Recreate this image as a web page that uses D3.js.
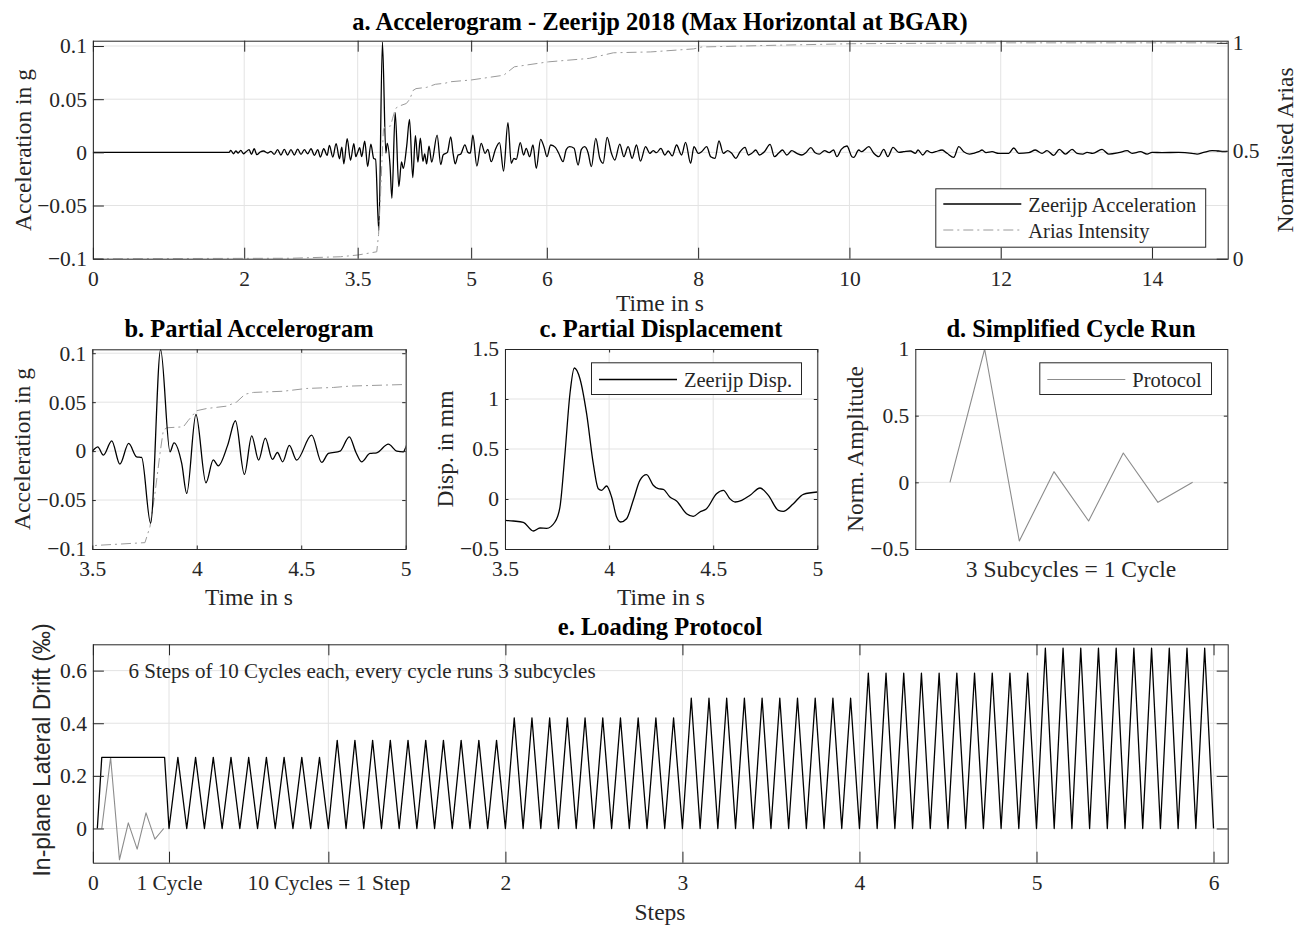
<!DOCTYPE html>
<html>
<head>
<meta charset="utf-8">
<title>Zeerijp 2018 accelerogram and loading protocol</title>
<script src="https://d3js.org/d3.v7.min.js"></script>
<style>
  body { margin: 0; background: #fff; }
  text { font-family: "Liberation Serif", "Times New Roman", serif; fill: #262626; }
</style>
</head>
<body>
<div id="chart"></div>
<script>
// ---------------- data ----------------
// acceleration in g, peaks and troughs of the record
var accT = [0, 1.80, 1.822, 1.858, 1.889, 1.920, 1.955, 1.990, 2.021, 2.065, 2.096, 2.132, 2.167, 2.211, 2.256, 2.309,
  2.353, 2.397, 2.441, 2.485, 2.530, 2.574, 2.618, 2.662, 2.707, 2.751, 2.795, 2.839, 2.883, 2.928, 2.972, 3.007,
  3.051, 3.096, 3.126, 3.171, 3.215, 3.259, 3.290, 3.317, 3.361, 3.405, 3.449, 3.475,
  3.500, 3.526, 3.553, 3.593, 3.632, 3.674, 3.712, 3.736, 3.779, 3.827, 3.872, 3.891, 3.928, 3.952, 3.996, 4.044,
  4.079, 4.103, 4.148, 4.185, 4.228, 4.263, 4.296, 4.328, 4.362, 4.386, 4.411, 4.443, 4.478, 4.550, 4.598, 4.630,
  4.686, 4.730, 4.762, 4.789, 4.829, 4.861, 4.917, 4.957, 4.989, 5.000,
  5.022, 5.075, 5.132, 5.185, 5.221, 5.265, 5.318, 5.375, 5.428, 5.486, 5.530, 5.565, 5.596, 5.649, 5.693, 5.728,
  5.773, 5.817, 5.861, 5.918, 5.962, 6.002, 6.051, 6.113, 6.157, 6.214, 6.258, 6.302, 6.360, 6.413, 6.457, 6.501,
  6.545, 6.589, 6.647, 6.700, 6.744, 6.797, 6.854, 6.898, 6.965, 7.018, 7.075, 7.128, 7.185, 7.238, 7.305, 7.362,
  7.406, 7.450, 7.508, 7.561, 7.605, 7.658, 7.715, 7.781, 7.834, 7.901, 7.945, 8.002, 8.046, 8.113, 8.166, 8.223,
  8.276, 8.333, 8.391, 8.444, 8.497, 8.554, 8.620, 8.664, 8.709, 8.762, 8.810, 8.876, 8.951, 9.009, 9.062, 9.115,
  9.172, 9.238, 9.305, 9.371, 9.424, 9.490, 9.547, 9.600, 9.671, 9.733, 9.790, 9.834, 9.892, 9.967, 10.033,
  10.057, 10.123, 10.159, 10.256, 10.322, 10.388, 10.454, 10.507, 10.577, 10.652, 10.718, 10.806, 10.872, 10.907,
  10.969, 11.026, 11.084, 11.137, 11.225, 11.291, 11.379, 11.445, 11.511, 11.586, 11.643, 11.709, 11.753, 11.806,
  11.885, 11.974, 12.106, 12.172, 12.238, 12.370, 12.458, 12.546, 12.612, 12.700, 12.775, 12.855, 12.943, 13.009,
  13.084, 13.141, 13.216, 13.339, 13.427, 13.559, 13.670, 13.736, 13.846, 13.934, 14.000, 14.132, 14.352, 14.529,
  14.595, 14.683, 14.793, 14.881, 14.943, 15.0];
var accG = [0, 0, 0.0019, -0.0013, 0.0013, -0.0006, 0.0019, -0.0013, 0.0003, 0.0025, -0.0019, 0.0034, -0.0022, 0.0003, 0.0013, -0.0006,
  0.0009, -0.0019, 0.0025, -0.0025, 0.0028, -0.0025, 0.0025, -0.0025, 0.0031, -0.0019, 0.0025, -0.0013, 0.0034, -0.0028, 0.0025, -0.0044,
  0.0034, -0.0028, 0.0066, -0.0044, 0.0082, -0.0060, 0.0050, -0.0107, 0.0129, -0.0075, 0.0082, -0.004,
  0, 0.0044, -0.0041, 0.0105, -0.0133, 0.0078, -0.0058, -0.0065, -0.0735, 0.1037, -0.0007, 0.0085, -0.0126, -0.0432, 0.0374, -0.0323,
  -0.009, -0.0150, 0.0061, 0.0310, -0.0238, 0.0156, -0.0092, 0.0133, -0.0085, -0.0014, -0.0109, 0.0058, -0.0092, 0.0163, -0.0116, -0.0024,
  0, 0.0146, -0.0014, -0.0109, -0.0024, -0.0017, 0.0071, 0, -0.0007, 0.0037,
  0.0163, -0.0129, 0.0085, -0.0009, 0.0028, -0.0088, 0.0022, 0.0091, -0.0176, 0.0279, -0.0103, -0.0056, -0.0066, 0.0091, -0.0025, 0.0038,
  -0.0041, 0.0069, -0.0151, 0.0122, 0.0053, -0.0041, 0.0069, 0.0047, -0.0009, -0.0088, 0.0028, 0.0053, 0.0038, -0.0119, 0.0028, 0.0053,
  -0.0003, -0.0135, 0.0132, -0.0056, -0.0103, 0.0141, -0.0009, -0.0072, 0.0078, -0.0041, 0.0053, -0.0056, 0.0069, -0.0082, 0.0053, -0.0009,
  0.0016, -0.0003, 0.0038, -0.0025, 0.0013, -0.0034, 0.0069, -0.0025, 0.0094, -0.0103, 0.0053, -0.0009, 0.0006, 0.0053, -0.0041, -0.0056,
  0.0107, -0.0009, 0.0016, -0.0009, -0.0056, 0.0006, 0.0047, -0.0025, -0.0009, 0.0022, -0.0025, 0.0006, 0.0075, -0.0041, -0.0009, 0.0022,
  -0.0025, 0.0016, -0.0009, -0.0025, -0.0003, 0.0044, -0.0003, -0.0016, 0.0016, -0.0003, 0.0022, -0.0041, 0.0028, 0.0060, -0.0041,
  -0.0047, 0.0022, 0.0006, 0.0053, -0.0009, -0.0041, 0.0028, -0.0041, 0.0047, 0, 0.0006, 0.0013, -0.0009, 0.0022,
  -0.0025, 0.0016, -0.0003, 0.0006, 0.0022, -0.0009, -0.0047, 0.0053, 0.0006, -0.0016, -0.0009, 0.0006, 0.0022, -0.0003,
  0.0006, -0.0009, -0.0009, 0.0041, -0.0009, -0.0003, 0.0022, -0.0009, 0.0016, -0.0028, 0.0028, -0.0016, 0.0028, -0.0009,
  -0.0016, 0, -0.0009, 0.0028, -0.0016, -0.0003, 0.0016, -0.0009, 0.0006, -0.0016, 0, -0.0003, 0, -0.0009,
  -0.0016, 0, 0.0016, 0.0013, 0.0006, 0.0009];

// normalised Arias intensity
var ariasT = [0, 2.61, 3.27, 3.5, 3.752, 3.776, 3.800, 3.824, 3.840, 3.856, 3.936, 3.960, 3.999, 4.047, 4.143, 4.191,
  4.231, 4.271, 4.414, 4.526, 4.654, 4.734, 5.0, 5.43, 5.57, 6.02, 6.56, 6.88, 7.37, 7.94, 8.05, 9.04, 10.03, 12.0, 15.0];
var ariasN = [0, 0.002, 0.009, 0.017, 0.032, 0.112, 0.280, 0.481, 0.598, 0.610, 0.615, 0.648, 0.696, 0.707, 0.719, 0.740,
  0.779, 0.788, 0.794, 0.808, 0.813, 0.820, 0.828, 0.850, 0.889, 0.912, 0.928, 0.954, 0.958, 0.972, 0.981, 0.989, 0.996, 1.0, 1.0];

// displacement in mm
var dispT = [3.500, 3.540, 3.588, 3.636, 3.668, 3.700, 3.740, 3.764, 3.788, 3.812, 3.833, 3.860, 3.892, 3.924, 3.948, 3.964,
  3.988, 4.012, 4.036, 4.055, 4.084, 4.116, 4.148, 4.180, 4.212, 4.236, 4.260, 4.292, 4.324, 4.372, 4.404, 4.436,
  4.468, 4.516, 4.549, 4.580, 4.605, 4.637, 4.677, 4.725, 4.765, 4.813, 4.837, 4.885, 4.933, 5.000];
var dispMM = [-0.213, -0.22, -0.233, -0.32, -0.29, -0.293, -0.23, -0.08, 0.453, 1.053, 1.31, 1.203, 0.853, 0.353, 0.103, 0.087,
  0.13, 0.02, -0.18, -0.23, -0.197, -0.013, 0.187, 0.243, 0.137, 0.103, 0.097, 0.02, -0.02, -0.147, -0.173, -0.13,
  -0.097, 0.053, 0.087, 0.003, -0.03, -0.013, 0.037, 0.11, 0.037, -0.113, -0.123, -0.047, 0.047, 0.07];

// one cycle = 3 subcycles, normalised amplitude
var cycleRun = [0, 1, -0.44, 0.08, -0.29, 0.22, -0.15, 0];
// peak drift of each of the 6 steps (per mille)
var stepAmp = [0.27, 0.335, 0.42, 0.495, 0.59, 0.685];
var stepTickPos = [0, 4.3, 13.3, 23.3, 33.3, 43.3, 53.3, 63.3];
var stepTickLab = ["0", "1 Cycle", "10 Cycles = 1 Step", "2", "3", "4", "5", "6"];
var timeTicksA = [0, 2, 3.5, 5, 6, 8, 10, 12, 14];
var timeTicksB = [3.5, 4, 4.5, 5];

// protocol: first cycle drawn as a bracket, then triangles per cycle
var protoX = [0.25, 0.5, 4.05, 4.3], protoY = [0, stepAmp[0], stepAmp[0], 0];
stepAmp.forEach(function(a, s) {
  for (var c = (s === 0 ? 1 : 0); c < 10; c++) {
    var x0 = 3.3 + 10 * s + c;
    protoX.push(x0 + 0.5, x0 + 1);
    protoY.push(a, 0);
  }
});

// ---------------- drawing ----------------
var svg = d3.select("#chart").append("svg").attr("width", 1303).attr("height", 926);
var AX = "#262626", GRID = "#e3e3e3";
var fmt = function(d) { return d === 0 ? "0" : String(d).replace("-", "\u2212"); };

function panel(id, box, xDom, yDom) {
  var p = {box: box};
  p.x = d3.scaleLinear().domain(xDom).range([box.l, box.r]);
  p.y = d3.scaleLinear().domain(yDom).range([box.b, box.t]);
  svg.append("clipPath").attr("id", "clip-" + id).append("rect")
    .attr("x", box.l).attr("y", box.t).attr("width", box.r - box.l).attr("height", box.b - box.t);
  p.grid = svg.append("g");
  p.data = svg.append("g").attr("clip-path", "url(#clip-" + id + ")");
  p.axes = svg.append("g");
  return p;
}

function grid(p, xv, yv) {
  p.grid.selectAll(".gx").data(xv).enter().append("line")
    .attr("x1", p.x).attr("x2", p.x).attr("y1", p.box.t).attr("y2", p.box.b)
    .attr("stroke", GRID).attr("stroke-width", 1);
  p.grid.selectAll(".gy").data(yv).enter().append("line")
    .attr("y1", p.y).attr("y2", p.y).attr("x1", p.box.l).attr("x2", p.box.r)
    .attr("stroke", GRID).attr("stroke-width", 1);
}

function styleAxis(g) {
  g.attr("font-family", null).attr("font-size", null).attr("color", AX);
  g.select(".domain").remove();
  g.selectAll("text").attr("font-size", 21.5);
}

function axes(p, o) {
  var b = p.box, tl = o.tl;
  if (o.xt) {
    p.axes.append("g").attr("transform", "translate(0," + b.b + ")")
      .call(d3.axisBottom(p.x).tickValues(o.xt).tickFormat(o.xf || fmt).tickSizeInner(-tl).tickSizeOuter(0).tickPadding(12))
      .call(styleAxis);
    p.axes.append("g").attr("transform", "translate(0," + b.t + ")")
      .call(d3.axisTop(p.x).tickValues(o.xt).tickFormat("").tickSizeInner(-tl).tickSizeOuter(0))
      .call(styleAxis);
  }
  p.axes.append("g").attr("transform", "translate(" + b.l + ",0)")
    .call(d3.axisLeft(p.y).tickValues(o.yt).tickFormat(fmt).tickSizeInner(-tl).tickSizeOuter(0).tickPadding(6))
    .call(styleAxis);
  var ry = o.yr || p.y, rt = o.yrt || o.yt;
  p.axes.append("g").attr("transform", "translate(" + b.r + ",0)")
    .call(d3.axisRight(ry).tickValues(rt).tickFormat(o.yr ? fmt : "").tickSizeInner(-tl).tickSizeOuter(0).tickPadding(5))
    .call(styleAxis);
  p.axes.append("rect").attr("x", b.l + 0.5).attr("y", b.t + 0.5)
    .attr("width", b.r - b.l).attr("height", b.b - b.t)
    .attr("fill", "none").attr("stroke", AX).attr("stroke-width", 1);
}

function label(x, y, str, o) {
  o = o || {};
  var t = svg.append("text").attr("x", x).attr("y", y).text(str)
    .attr("font-size", o.size || 23.5).attr("text-anchor", o.anchor || "middle");
  if (o.bold) t.attr("font-weight", "bold").style("fill", "#000");
  if (o.rot) t.attr("transform", "rotate(-90," + x + "," + y + ")");
  if (o.family) t.style("font-family", o.family);
  return t;
}

function legend(box, items) {
  svg.append("rect").attr("x", box.l + 0.5).attr("y", box.t + 0.5)
    .attr("width", box.r - box.l).attr("height", box.b - box.t)
    .attr("fill", "#fff").attr("stroke", AX).attr("stroke-width", 1);
  items.forEach(function(it) {
    svg.append("line").attr("x1", box.l + 8).attr("x2", box.l + 86).attr("y1", it.y).attr("y2", it.y)
      .attr("stroke", it.color).attr("stroke-width", it.w).attr("stroke-dasharray", it.dash || null);
    label(box.l + 93, it.y + 7.5, it.text, {size: 20.5, anchor: "start"});
  });
}

function path(p, xs, ys, color, w, curve, dash) {
  var line = d3.line().x(function(d) { return p.x(d[0]); }).y(function(d) { return p.y(d[1]); })
    .curve(curve || d3.curveLinear);
  p.data.append("path").datum(d3.zip(xs, ys)).attr("d", line)
    .attr("fill", "none").attr("stroke", color).attr("stroke-width", w)
    .attr("stroke-linejoin", "round").attr("stroke-dasharray", dash || null);
}

var DASHDOT = "10,4,2,4", ARIAS = "#9a9a9a", PROTO = "#8c8c8c";

// ---- a. full accelerogram ----
var pa = panel("a", {l: 92.9, r: 1227.7, t: 40.7, b: 258.7}, [0, 15], [-0.1, 0.105]);
var yArias = d3.scaleLinear().domain([0, 1.01]).range([258.7, 40.7]);
grid(pa, timeTicksA, [-0.05, 0, 0.05, 0.1]);
path(pa, accT, accG, "#000", 1.3, d3.curveMonotoneX);
pa.data.append("path").datum(d3.zip(ariasT, ariasN))
  .attr("d", d3.line().x(function(d) { return pa.x(d[0]); }).y(function(d) { return yArias(d[1]); }))
  .attr("fill", "none").attr("stroke", ARIAS).attr("stroke-width", 1).attr("stroke-dasharray", DASHDOT);
axes(pa, {tl: 11, xt: timeTicksA, yt: [-0.1, -0.05, 0, 0.05, 0.1], yr: yArias, yrt: [0, 0.5, 1]});
label(660, 30, "a. Accelerogram - Zeerijp 2018 (Max Horizontal at BGAR)", {bold: true, size: 24.5});
label(660, 311, "Time in s");
label(31, 150, "Acceleration in g", {rot: true});
label(1293, 150, "Normalised Arias", {rot: true});
legend({l: 935.3, r: 1205.2, t: 188.3, b: 246.7}, [
  {y: 204, color: "#000", w: 1.3, text: "Zeerijp Acceleration"},
  {y: 230, color: ARIAS, w: 1, dash: DASHDOT, text: "Arias Intensity"}
]);

// ---- b. partial accelerogram ----
var pb = panel("b", {l: 92.3, r: 405.7, t: 349.3, b: 549}, [3.5, 5], [-0.1, 0.104]);
grid(pb, timeTicksB, [-0.05, 0, 0.05, 0.1]);
path(pb, ariasT, ariasN.map(function(a) { return -0.1 + a * 0.205 / 1.01; }), ARIAS, 1, d3.curveLinear, DASHDOT);
path(pb, accT, accG, "#000", 1.3, d3.curveMonotoneX);
axes(pb, {tl: 3.5, xt: timeTicksB, yt: [-0.1, -0.05, 0, 0.05, 0.1]});
label(249, 337, "b. Partial Accelerogram", {bold: true, size: 24.5});
label(249, 605, "Time in s");
label(30, 449, "Acceleration in g", {rot: true});

// ---- c. partial displacement ----
var pc = panel("c", {l: 505, r: 817.3, t: 349, b: 549}, [3.5, 5], [-0.5, 1.5]);
grid(pc, timeTicksB, [0, 0.5, 1]);
path(pc, dispT, dispMM, "#000", 1.3, d3.curveMonotoneX);
axes(pc, {tl: 3.5, xt: timeTicksB, yt: [-0.5, 0, 0.5, 1, 1.5]});
label(661, 337, "c. Partial Displacement", {bold: true, size: 24.5});
label(661, 605, "Time in s");
label(453, 449, "Disp. in mm", {rot: true});
legend({l: 591, r: 801, t: 362.3, b: 394}, [{y: 379.5, color: "#000", w: 1.3, text: "Zeerijp Disp."}]);

// ---- d. simplified cycle run ----
var pd = panel("d", {l: 915.3, r: 1227.3, t: 349, b: 549}, [0, 9], [-0.5, 1]);
grid(pd, [], [0, 0.5]);
path(pd, cycleRun.map(function(v, i) { return i + 1; }), cycleRun, PROTO, 1.1);
axes(pd, {tl: 3.5, yt: [-0.5, 0, 0.5, 1]});
label(1071, 337, "d. Simplified Cycle Run", {bold: true, size: 24.5});
label(1071, 577, "3 Subcycles = 1 Cycle");
label(863, 449, "Norm. Amplitude", {rot: true});
legend({l: 1039.3, r: 1211, t: 362.3, b: 394}, [{y: 379.5, color: PROTO, w: 1.1, text: "Protocol"}]);

// ---- e. loading protocol ----
var pe = panel("e", {l: 92.9, r: 1227.7, t: 644.3, b: 862.7}, [0, 64.1], [-0.13, 0.7]);
grid(pe, stepTickPos, [0, 0.2, 0.4, 0.6]);
path(pe, cycleRun.map(function(v, i) { return 0.5 + 0.5 * i; }), cycleRun.map(function(v) { return v * stepAmp[0]; }), PROTO, 1.1);
path(pe, protoX, protoY, "#000", 1.3);
axes(pe, {tl: 11, xt: stepTickPos, xf: function(d, i) { return stepTickLab[i]; }, yt: [0, 0.2, 0.4, 0.6]});
label(660, 635, "e. Loading Protocol", {bold: true, size: 24.5});
label(660, 920, "Steps");
label(50, 750, "In-plane Lateral Drift (\u2030)", {rot: true, size: 23, family: "'Liberation Sans', Arial, sans-serif"});
label(128.5, 678, "6 Steps of 10 Cycles each, every cycle runs 3 subcycles", {size: 21, anchor: "start"});
</script>
</body>
</html>
